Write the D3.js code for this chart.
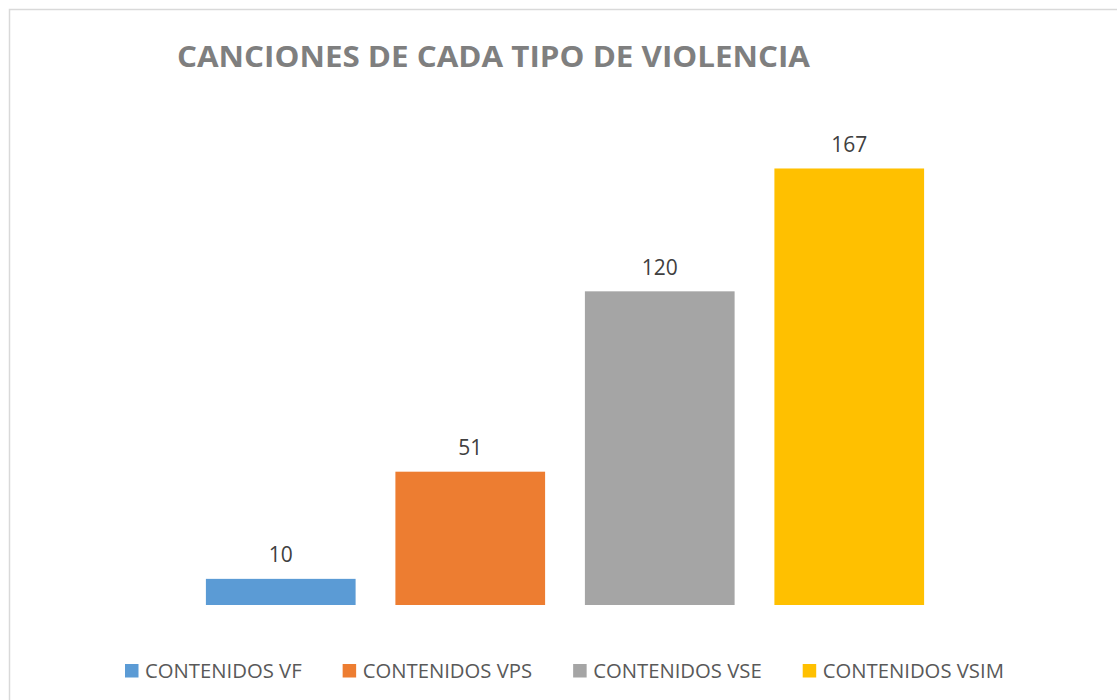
<!DOCTYPE html>
<html>
<head>
<meta charset="utf-8">
<script src="https://cdn.jsdelivr.net/npm/d3@7"></script>
<style>
  body { margin: 0; background: #fff; }
  svg { display: block; }
</style>
</head>
<body>
<div id="my_dataviz"></div>
<script>
// chart data
var categories = ["CONTENIDOS VF", "CONTENIDOS VPS", "CONTENIDOS VSE", "CONTENIDOS VSIM"];
var values = [10, 51, 120, 167];
var colors = ["#5b9bd5", "#ed7d31", "#a5a5a5", "#ffc000"];
var title = "CANCIONES DE CADA TIPO DE VIOLENCIA";

var width = 1117, height = 700;

var svg = d3.select("#my_dataviz")
    .append("svg")
    .attr("width", width)
    .attr("height", height);

// chart frame
svg.append("rect")
    .attr("x", 9.5)
    .attr("y", 9.5)
    .attr("width", 1140)
    .attr("height", 720)
    .attr("fill", "#fff")
    .attr("stroke", "#d9d9d9")
    .attr("stroke-width", 1.5);

// title
svg.append("text")
    .attr("x", 177)
    .attr("y", 67)
    .attr("textLength", 633)
    .attr("lengthAdjust", "spacingAndGlyphs")
    .style("font-family", "'Open Sans', sans-serif")
    .style("font-weight", "bold")
    .style("font-size", "29px")
    .style("fill", "#7f7f7f")
    .text(title);

// scales
var x = d3.scaleBand()
    .domain(categories)
    .range([186, 944])
    .paddingInner(0.21)
    .paddingOuter(0.105);

var y = d3.scaleLinear()
    .domain([0, 180])
    .range([605, 134.5]);

var data = categories.map(function(c, i) {
    return { name: c, value: values[i], color: colors[i] };
});

// bars
svg.selectAll(".bar")
    .data(data)
    .enter()
    .append("rect")
    .attr("class", "bar")
    .attr("x", function(d) { return x(d.name); })
    .attr("y", function(d) { return y(d.value); })
    .attr("width", x.bandwidth())
    .attr("height", function(d) { return y(0) - y(d.value); })
    .style("fill", function(d) { return d.color; });

// value labels
svg.selectAll(".label")
    .data(data)
    .enter()
    .append("text")
    .attr("class", "label")
    .attr("x", function(d) { return x(d.name) + x.bandwidth() / 2; })
    .attr("y", function(d) { return y(d.value) - 16.5; })
    .style("text-anchor", "middle")
    .style("font-family", "'Open Sans', sans-serif")
    .style("font-size", "21px")
    .style("fill", "#404040")
    .text(function(d) { return d.value; });

// legend
var legend = svg.append("g");
var lx = 125;
data.forEach(function(d) {
    var g = legend.append("g").attr("transform", "translate(" + lx + ",0)");
    g.append("rect")
        .attr("x", 0)
        .attr("y", 664)
        .attr("width", 13.5)
        .attr("height", 13.5)
        .style("fill", d.color);
    var t = g.append("text")
        .attr("x", 20)
        .attr("y", 677.5)
        .style("font-family", "'Open Sans', sans-serif")
        .style("font-size", "20.3px")
        .style("fill", "#595959")
        .text(d.name);
    var w = t.node().getComputedTextLength();
    lx += 20 + w + 41;
});
</script>
</body>
</html>
